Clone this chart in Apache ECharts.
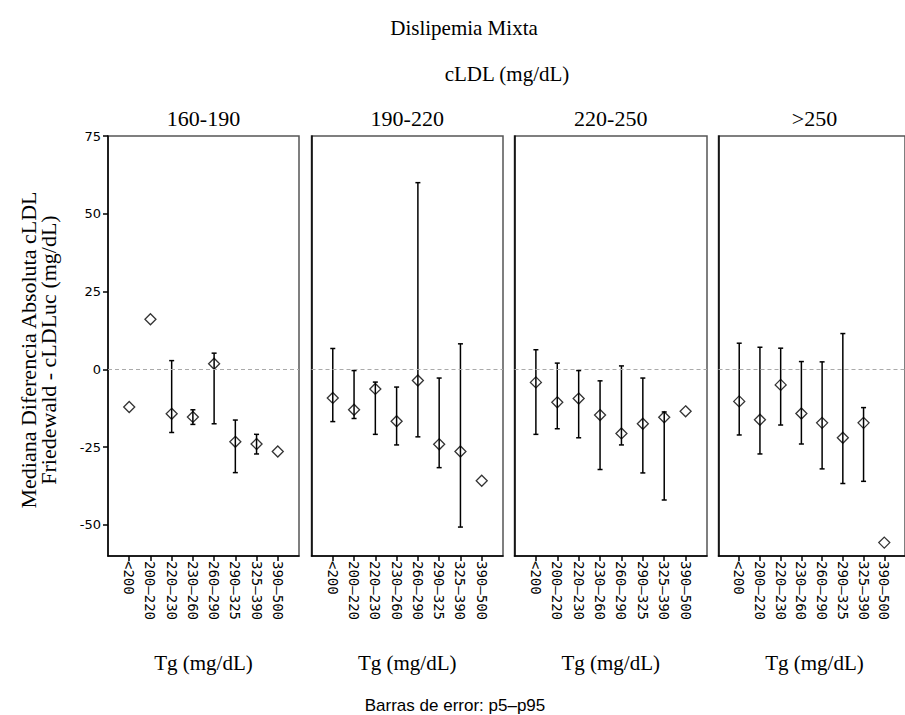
<!DOCTYPE html>
<html>
<head>
<meta charset="utf-8">
<title>Dislipemia Mixta</title>
<script src="https://cdn.jsdelivr.net/npm/echarts@6/dist/echarts.min.js"></script>
<style>
  html, body { margin: 0; padding: 0; background: #fff; }
  #chart { width: 905px; height: 715px; }
</style>
</head>
<body>
<div id="chart"></div>
<script>
// Triglyceride bins (x categories) and LDL panels
const tgCategories = ['<200', '200\u2013220', '220\u2013230', '230\u2013260', '260\u2013290', '290\u2013325', '325\u2013390', '390\u2013500'];
const ldlGroups = ['160-190', '190-220', '220-250', '>250'];
const yTicks = [-50, -25, 0, 25, 50, 75];

// Median absolute difference per panel, with p5 / p95 error bar limits (null = no bar)
const median160 = [-12.1, 16.1, -14.3, -15.3, 1.8, -23.3, -24.0, -26.4];
const p5_160    = [null, null, -20.3, -17.7, -17.5, -33.2, -27.2, null];
const p95_160   = [null, null, 2.8, -13.0, 5.2, -16.3, -20.9, null];

const median190 = [-9.2, -13.0, -6.3, -16.7, -3.6, -24.1, -26.4, -35.8];
const p5_190    = [-16.8, -15.8, -20.9, -24.3, -21.7, -31.6, -50.7, null];
const p95_190   = [6.7, -0.4, -4.1, -5.7, 60.0, -2.8, 8.2, null];

const median220 = [-4.2, -10.6, -9.4, -14.7, -20.6, -17.5, -15.4, -13.5];
const p5_220    = [-20.9, -19.1, -22.0, -32.2, -24.3, -33.3, -42.0, null];
const p95_220   = [6.3, 2.0, -0.4, -3.7, 1.1, -2.8, -13.7, null];

const median250 = [-10.3, -16.2, -5.0, -14.2, -17.2, -22.0, -17.2, -55.7];
const p5_250    = [-21.1, -27.2, -17.9, -24.0, -32.0, -36.7, -36.0, null];
const p95_250   = [8.4, 7.1, 6.8, 2.5, 2.4, 11.5, -12.3, null];

const panels = [
  { median: median160, p5: p5_160, p95: p95_160 },
  { median: median190, p5: p5_190, p95: p95_190 },
  { median: median220, p5: p5_220, p95: p95_220 },
  { median: median250, p5: p5_250, p95: p95_250 }
];

// Panel geometry (px)
const panelLeft = [108, 311.5, 514.5, 718.5];
const panelWidth = [191, 191.5, 192.5, 192];
const panelTop = 136;
const panelHeight = 420;

// One empty slot on each side keeps the outer categories off the frame
const paddedCats = [''].concat(tgCategories, ['']);

const serif = '"Liberation Serif", "DejaVu Serif", serif';
const sans = '"DejaVu Sans", sans-serif';

const grids = [], xAxes = [], yAxes = [], series = [];

panels.forEach((p, k) => {
  grids.push({
    left: panelLeft[k], width: panelWidth[k], top: panelTop, height: panelHeight,
    show: true, borderColor: '#555', borderWidth: 1.5, backgroundColor: '#fff'
  });
  xAxes.push({
    type: 'category', gridIndex: k, data: paddedCats, boundaryGap: false,
    axisLine: { show: true, onZero: false, lineStyle: { color: '#000', width: 1.5 } },
    axisTick: { show: true, length: 5, lineStyle: { color: '#000', width: 1.5 },
                interval: (i, v) => v !== '' },
    axisLabel: { show: true, rotate: -90, interval: 0, margin: 5,
                 fontFamily: '"DejaVu Sans Mono", monospace', fontSize: 14, color: '#000' },
    splitLine: { show: false }
  });
  yAxes.push({
    type: 'value', gridIndex: k, min: -60, max: 75,
    axisLine: { show: true, onZero: false, lineStyle: { color: '#000', width: 1.5 } },
    axisTick: { show: k === 0, length: 5, lineStyle: { color: '#000', width: 1.5 }, customValues: yTicks },
    axisLabel: { show: k === 0, customValues: yTicks, margin: 7, fontFamily: sans, fontSize: 13, color: '#000' },
    splitLine: { show: false }
  });

  const barData = [];
  tgCategories.forEach((c, i) => {
    if (p.p5[i] != null && p.p95[i] != null) barData.push([c, p.p5[i], p.p95[i]]);
  });

  series.push({
    type: 'custom', xAxisIndex: k, yAxisIndex: k, z: 3, silent: true,
    data: barData,
    renderItem: function (params, api) {
      const x = api.value(0);
      const lo = api.coord([x, api.value(1)]);
      const hi = api.coord([x, api.value(2)]);
      const cap = 2.5;
      const st = { stroke: '#000', lineWidth: 1.5 };
      return {
        type: 'group',
        children: [
          { type: 'line', shape: { x1: lo[0], y1: lo[1], x2: hi[0], y2: hi[1] }, style: st },
          { type: 'line', shape: { x1: lo[0] - cap, y1: lo[1], x2: lo[0] + cap, y2: lo[1] }, style: st },
          { type: 'line', shape: { x1: hi[0] - cap, y1: hi[1], x2: hi[0] + cap, y2: hi[1] }, style: st }
        ]
      };
    }
  });

  series.push({
    type: 'scatter', xAxisIndex: k, yAxisIndex: k, z: 4, silent: true,
    symbol: 'diamond', symbolSize: [11, 11],
    itemStyle: { color: 'rgba(255,255,255,0)', borderColor: '#000', borderWidth: 1.3 },
    data: tgCategories.map((c, i) => [c, p.median[i]]),
    markLine: {
      silent: true, symbol: ['none', 'none'], label: { show: false },
      lineStyle: { color: '#aaa', type: [4, 3], width: 1 },
      data: [{ yAxis: 0 }]
    }
  });
});

// Text: titles, panel headers, axis names, footnote
const graphics = [
  { type: 'text', x: 464, y: 28, style: { text: 'Dislipemia Mixta', font: '21px ' + serif, textAlign: 'center', textVerticalAlign: 'middle', fill: '#000' } },
  { type: 'text', x: 507, y: 74, style: { text: 'cLDL (mg/dL)', font: '21px ' + serif, textAlign: 'center', textVerticalAlign: 'middle', fill: '#000' } },
  { type: 'text', x: 38, y: 350, rotation: Math.PI / 2,
    style: { text: 'Mediana Diferencia Absoluta cLDL\nFriedewald - cLDLuc (mg/dL)', font: '22px ' + serif,
             textAlign: 'center', textVerticalAlign: 'middle', lineHeight: 20, fill: '#000' } },
  { type: 'text', x: 455, y: 705, style: { text: 'Barras de error: p5\u2013p95', font: '17px "Liberation Sans", sans-serif', textAlign: 'center', textVerticalAlign: 'middle', fill: '#000' } }
];
ldlGroups.forEach((g, k) => {
  const cx = panelLeft[k] + panelWidth[k] / 2;
  graphics.push({ type: 'text', x: cx, y: 118, style: { text: g, font: '22px ' + serif, textAlign: 'center', textVerticalAlign: 'middle', fill: '#000' } });
  graphics.push({ type: 'text', x: cx, y: 663, style: { text: 'Tg (mg/dL)', font: '21px ' + serif, textAlign: 'center', textVerticalAlign: 'middle', fill: '#000' } });
});

const chart = echarts.init(document.getElementById('chart'), null, { renderer: 'svg' });
chart.setOption({
  animation: false,
  backgroundColor: '#fff',
  grid: grids,
  xAxis: xAxes,
  yAxis: yAxes,
  series: series,
  graphic: graphics
});
</script>
</body>
</html>
